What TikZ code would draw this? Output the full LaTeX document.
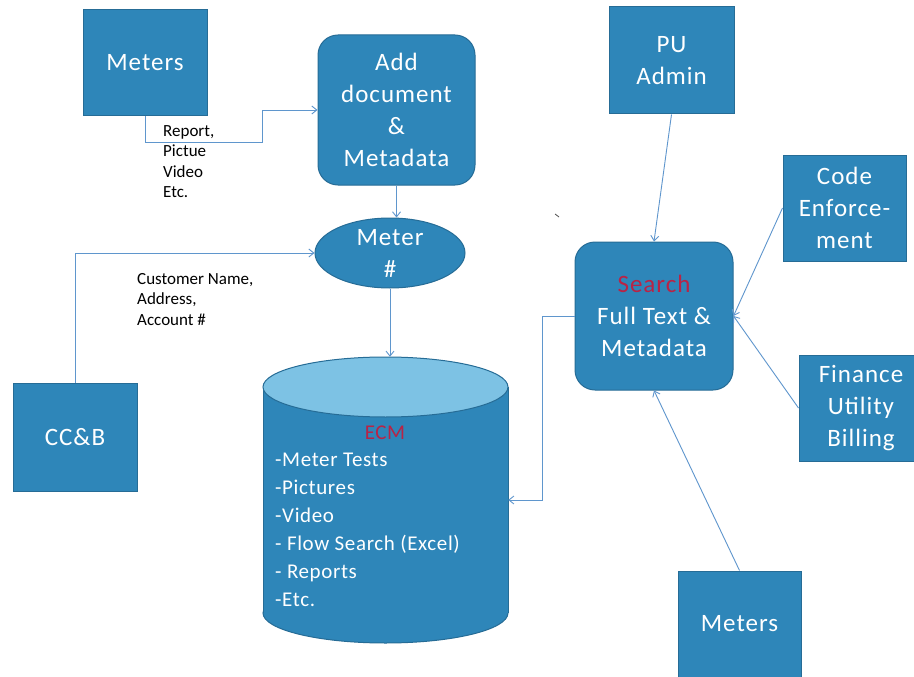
\documentclass[tikz,border=0pt]{standalone}
\usepackage{fontspec}
\setmainfont{Carlito}
\newfontfamily\boxfont[LetterSpace=4]{Carlito}
\newfontfamily\listfont[LetterSpace=3]{Carlito}
\usetikzlibrary{shapes.geometric,arrows.meta,calc}
\definecolor{boxblue}{RGB}{46,134,185}
\definecolor{boxedge}{RGB}{38,108,150}
\definecolor{cyltop}{RGB}{125,194,228}
\definecolor{connblue}{RGB}{95,150,205}
\definecolor{redtxt}{RGB}{185,35,70}
\begin{document}
\begin{tikzpicture}[x=1pt,y=-1pt,
 bluebox/.style={draw=boxedge,fill=boxblue,line width=1pt,text=white,align=center,font=\boxfont\fontsize{25}{32}\selectfont,inner sep=0pt},
 sqbox/.style={bluebox,rectangle},
 rbox/.style={bluebox,rectangle,rounded corners=20pt},
 conn/.style={draw=connblue,line width=0.9pt,-{Straight Barb[length=5pt,width=8pt]}},
 lbl/.style={align=left,font=\fontsize{17}{20.5}\selectfont,inner sep=0pt,anchor=north west}]
\fill[white] (0,0) rectangle (914,677);
\clip (0,0) rectangle (914,677);

% boxes
\node[sqbox,minimum width=124pt,minimum height=106pt] (meters1) at (145,63) {Meters};
\node[rbox,minimum width=157pt,minimum height=150pt] (add) at (396.5,110) {Add\\document\\\&\\Metadata};
\node[bluebox,ellipse,minimum width=150pt,minimum height=70pt] (meterno) at (390,253) {Meter\\\#};
\node[sqbox,minimum width=124pt,minimum height=108pt] (ccb) at (75,437.5) {CC\&B};
\node[rbox,minimum width=158pt,minimum height=148pt] (search) at (654,316) {\textcolor{redtxt}{Search}\\Full Text \&\\Metadata};
\node[sqbox,minimum width=125pt,minimum height=107pt] (pu) at (671.5,60.5) {PU\\Admin};
\node[sqbox,minimum width=123pt,minimum height=106pt] (code) at (844.5,208) {Code\\Enforce-\\ment};
\node[sqbox,minimum width=124pt,minimum height=106pt] (finance) at (861,408) {Finance\\Utility\\Billing};
\node[sqbox,minimum width=123pt,minimum height=106pt] (meters2) at (739.5,624) {Meters};

% ECM cylinder
\node[minimum width=245pt,minimum height=286pt,inner sep=0pt] (ecm) at (385.5,500) {};
\filldraw[fill=boxblue,draw=boxedge,line width=1pt] (385.5,613) ellipse [x radius=122.5,y radius=30];
\fill[boxblue] (263,387) rectangle (508,613);
\draw[boxedge,line width=1pt] (263,387) -- (263,613) (508,387) -- (508,613);
\filldraw[fill=cyltop,draw=boxedge,line width=1pt] (385.5,387) ellipse [x radius=122.5,y radius=30];
\node[text=redtxt,font=\listfont\fontsize{21}{25}\selectfont,inner sep=0pt] (ecmt) at (385,433) {ECM};
\node[anchor=north west,align=left,text=white,font=\listfont\fontsize{21}{28}\selectfont,inner sep=0pt] (ecml) at (275,453) {-Meter Tests\\-Pictures\\-Video\\- Flow Search (Excel)\\- Reports\\-Etc.};

% labels
\node[lbl] (lbl1) at (163,125) {Report,\\Pictue\\Video\\Etc.};
\node[lbl] (lbl2) at (137,273) {Customer Name,\\Address,\\Account \#};

% connectors
\coordinate (k1) at (262,142);
\draw[conn] (meters1.south) |- (k1) |- (add.west);
\draw[conn] (add.south) -- (add.south |- meterno.north);
\draw[conn] (ccb.north) |- (meterno.west);
\draw[conn] (meterno.south) -- (meterno.south |- ecm.north);
\coordinate (k2) at (542,500);
\draw[conn] (search.west) -| (k2) -- (ecm.east);
\draw[conn] (pu.south) -- (search.north);
\draw[conn] (code.west) -- (search.east);
\draw[conn] (finance.west) -- (search.east);
\draw[conn] (meters2.north) -- (search.south);

% stray mark
\draw[black!70,line width=0.8pt] (555,214) -- (559,217);
\end{tikzpicture}
\end{document}
